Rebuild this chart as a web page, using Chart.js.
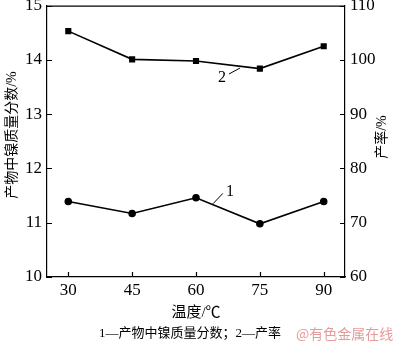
<!DOCTYPE html>
<html>
<head>
<meta charset="utf-8">
<script src="https://cdn.jsdelivr.net/npm/chart.js@4.4.0/dist/chart.umd.min.js"></script>
<style>
  html, body { margin: 0; padding: 0; background: #fff; }
  #wrap { width: 400px; height: 346px; position: relative; }
</style>
</head>
<body>
<div id="wrap"><canvas id="chart" width="400" height="346"></canvas></div>
<script>
// data
const temps = [30, 45, 60, 75, 90];
const nickelFraction = [11.39, 11.17, 11.46, 10.98, 11.39]; // curve 1, left axis (%)
const yieldRate = [105.3, 100.1, 99.8, 98.4, 102.5]; // curve 2, right axis (%)
const xTicks = [30, 45, 60, 75, 90];

const serif = "'Liberation Serif', 'Times New Roman', serif";
const cjk = "'Liberation Serif', 'Noto Sans CJK SC', serif";

// in-plot labels, in data units
const labels = [
  { text: "2", x: 66.1, y: 13.67, line: [67.75, 13.74, 70.33, 13.85] },
  { text: "1", x: 68.0, y: 11.57, line: [64.0, 11.35, 66.3, 11.54] },
];

const extras = {
  id: "extras",
  afterDraw(chart) {
    const { ctx, chartArea: a, scales } = chart;
    const sx = scales.x, sy = scales.y, sy1 = scales.y1;
    ctx.save();
    ctx.strokeStyle = "#000";
    ctx.lineWidth = 1.2;
    // frame top line
    ctx.beginPath();
    ctx.moveTo(a.left, a.top + 0.5);
    ctx.lineTo(a.right, a.top + 0.5);
    ctx.stroke();
    // inward ticks
    ctx.beginPath();
    xTicks.forEach((v) => {
      const p = Math.round(sx.getPixelForValue(v)) + 0.5;
      ctx.moveTo(p, a.bottom);
      ctx.lineTo(p, a.bottom - 5);
    });
    for (let v = 10; v <= 15; v++) {
      const p = Math.round(sy.getPixelForValue(v)) + 0.5;
      ctx.moveTo(a.left, p);
      ctx.lineTo(a.left + 5, p);
    }
    for (let v = 60; v <= 110; v += 10) {
      const p = Math.round(sy1.getPixelForValue(v)) + 0.5;
      ctx.moveTo(a.right, p);
      ctx.lineTo(a.right - 5, p);
    }
    ctx.stroke();

    // curve labels with leader lines
    ctx.lineWidth = 1;
    ctx.fillStyle = "#000";
    ctx.font = "16px " + serif;
    ctx.textAlign = "center";
    ctx.textBaseline = "middle";
    labels.forEach((l) => {
      ctx.fillText(l.text, sx.getPixelForValue(l.x), sy.getPixelForValue(l.y));
      ctx.beginPath();
      ctx.moveTo(sx.getPixelForValue(l.line[0]), sy.getPixelForValue(l.line[1]));
      ctx.lineTo(sx.getPixelForValue(l.line[2]), sy.getPixelForValue(l.line[3]));
      ctx.stroke();
    });

    // axis titles
    ctx.font = "14px " + cjk;
    ctx.save();
    ctx.translate(12, 135);
    ctx.rotate(-Math.PI / 2);
    ctx.fillText("产物中镍质量分数/%", 0, 0);
    ctx.restore();
    ctx.save();
    ctx.translate(382, 137);
    ctx.rotate(-Math.PI / 2);
    ctx.fillText("产率/%", 0, 0);
    ctx.restore();
    ctx.font = "15px " + cjk;
    ctx.fillText("温度/℃", 196, 313);

    // caption + watermark
    ctx.font = "13px " + cjk;
    ctx.fillText("1—产物中镍质量分数；2—产率", 190, 334);
    ctx.fillStyle = "rgba(220, 120, 120, 0.75)";
    ctx.font = "14px 'Noto Sans CJK SC', sans-serif";
    ctx.textAlign = "left";
    ctx.fillText("@有色金属在线", 296, 334);
    ctx.restore();
  },
};

const fixY = (w) => (s) => { s.width = w; s.paddingTop = 0; s.paddingBottom = 0; };

new Chart(document.getElementById("chart"), {
  type: "line",
  data: {
    datasets: [
      {
        label: "产物中镍质量分数",
        data: temps.map((t, i) => ({ x: t, y: nickelFraction[i] })),
        yAxisID: "y",
        borderColor: "#000",
        backgroundColor: "#000",
        borderWidth: 1.6,
        pointStyle: "circle",
        pointRadius: 3,
        tension: 0,
      },
      {
        label: "产率",
        data: temps.map((t, i) => ({ x: t, y: yieldRate[i] })),
        yAxisID: "y1",
        borderColor: "#000",
        backgroundColor: "#000",
        borderWidth: 1.6,
        pointStyle: "rect",
        pointRadius: 3.2,
        tension: 0,
      },
    ],
  },
  options: {
    responsive: false,
    animation: false,
    events: [],
    layout: { padding: { top: 5, left: 0, right: 0, bottom: 0 } },
    plugins: { legend: { display: false }, tooltip: { enabled: false } },
    scales: {
      x: {
        type: "linear",
        min: 25,
        max: 95,
        afterBuildTicks: (s) => { s.ticks = xTicks.map((v) => ({ value: v })); },
        afterFit: (s) => { s.height = 69; s.paddingLeft = 0; s.paddingRight = 0; },
        grid: { display: false, drawTicks: false },
        border: { display: true, color: "#000", width: 1.2 },
        ticks: { color: "#000", padding: 3, font: { family: serif, size: 17 } },
      },
      y: {
        position: "left",
        min: 10,
        max: 15,
        afterFit: fixY(47),
        grid: { display: false, drawTicks: false },
        border: { display: true, color: "#000", width: 1.2 },
        ticks: { stepSize: 1, color: "#000", padding: 5, font: { family: serif, size: 17 } },
      },
      y1: {
        position: "right",
        min: 60,
        max: 110,
        afterFit: fixY(55),
        grid: { display: false, drawTicks: false },
        border: { display: true, color: "#000", width: 1.2 },
        ticks: { stepSize: 10, color: "#000", padding: 5, font: { family: serif, size: 17 } },
      },
    },
  },
  plugins: [extras],
});
</script>
</body>
</html>
